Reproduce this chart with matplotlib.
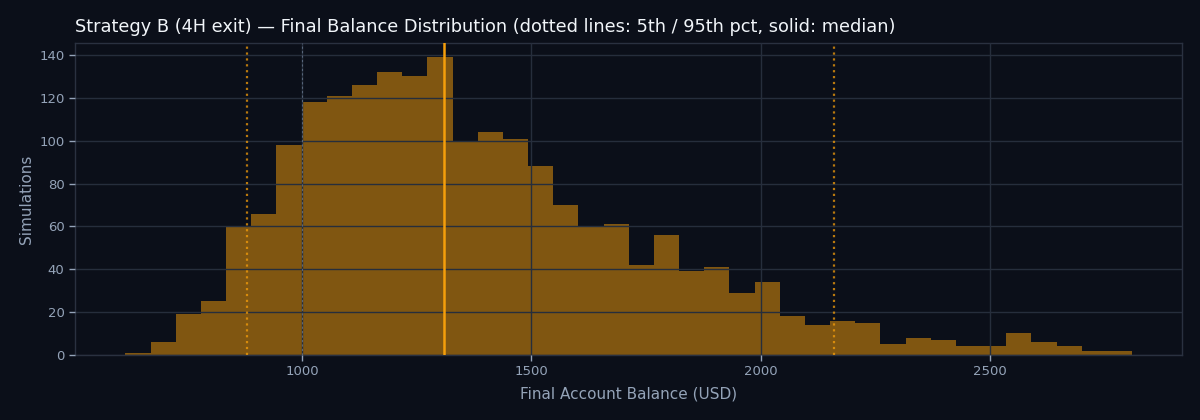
import numpy as np
import matplotlib
matplotlib.use("Agg")
import matplotlib.pyplot as plt

# Data
bin_start = 615.0
bin_end = 2809.0
counts = [1, 6, 19, 25, 60, 66, 98, 118, 121, 126, 132, 130, 139, 100, 104, 101,
          88, 70, 60, 61, 42, 56, 39, 41, 29, 34, 18, 14, 16, 15, 5, 8, 7, 4, 4,
          10, 6, 4, 2, 2]
p5 = 879.0
p95 = 2159.0
median = 1309.0
start_balance = 1000.0
title = "Strategy B (4H exit) — Final Balance Distribution (dotted lines: 5th / 95th pct, solid: median)"
xlabel = "Final Account Balance (USD)"
ylabel = "Simulations"

BG = "#0b0f19"
ORANGE = "#f59e0b"
GRID = "#262e3c"
TXT = "#94a3b8"

edges = np.linspace(bin_start, bin_end, len(counts) + 1)
centers = (edges[:-1] + edges[1:]) / 2

fig = plt.figure(figsize=(12, 4.2), dpi=100, facecolor=BG)
ax = fig.add_axes([0.0625, 0.155, 0.9225, 0.7425])
ax.set_facecolor(BG)

ax.hist(centers, bins=edges, weights=counts, color=ORANGE, alpha=0.5, zorder=1)

ax.axvline(p5, color=ORANGE, ls=":", lw=1.6, alpha=0.75, zorder=3)
ax.axvline(p95, color=ORANGE, ls=":", lw=1.6, alpha=0.75, zorder=3)
ax.axvline(median, color=ORANGE, ls="-", lw=1.8, zorder=3)
ax.axvline(start_balance, color="#64748b", ls=(0, (2, 2)), lw=0.8, alpha=0.8, zorder=3)

ax.set_xlim(505, 2918)
ax.set_ylim(0, 145.6)
ax.set_xticks([1000, 1500, 2000, 2500])
ax.set_yticks(range(0, 141, 20))

ax.set_axisbelow(False)
ax.grid(True, color=GRID, lw=1.0, zorder=2)

for s in ax.spines.values():
    s.set_color("#2a3140")
    s.set_linewidth(1.0)

ax.tick_params(colors=TXT, labelsize=9.5, length=4, width=1)
ax.set_xlabel(xlabel, color=TXT, fontsize=11, labelpad=6)
ax.set_ylabel(ylabel, color=TXT, fontsize=11, labelpad=4)
ax.set_title(title, color="#f1f5f9", fontsize=12.8, loc="left", pad=8)

fig.savefig("out.png", dpi=100, facecolor=BG)
